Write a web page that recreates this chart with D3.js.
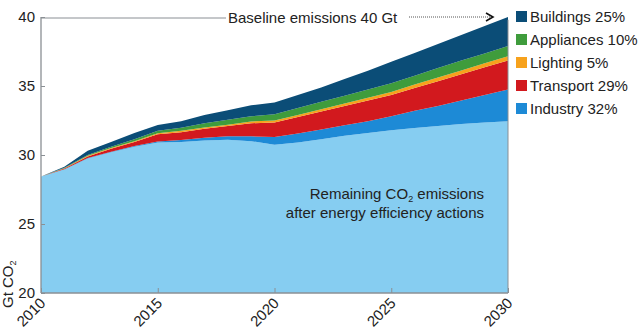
<!DOCTYPE html>
<html>
<head>
<meta charset="utf-8">
<script src="https://cdn.jsdelivr.net/npm/d3@7"></script>
<style>
  body { margin: 0; background: #fff; }
  svg text { font-family: "Liberation Sans", Arial, sans-serif; fill: #222; }
</style>
</head>
<body>
<svg id="chart" width="641" height="332"></svg>
<script>
// ---- data (Gt CO2) ----
const years = [2010, 2011, 2012, 2013, 2014, 2015, 2016, 2017, 2018, 2019, 2020,
               2021, 2022, 2023, 2024, 2025, 2026, 2027, 2028, 2029, 2030];
// remaining emissions after efficiency actions
const remaining  = [28.45, 28.95, 29.75, 30.2, 30.6, 30.9, 30.95, 31.05, 31.1, 31.0, 30.75,
                    30.9, 31.15, 31.4, 31.6, 31.8, 31.95, 32.1, 32.25, 32.35, 32.45];
// savings by sector, stacked on top of the remaining emissions
const industry   = [0, 0.02, 0.03, 0.03, 0.05, 0.08, 0.13, 0.2, 0.25, 0.35, 0.55,
                    0.65, 0.7, 0.75, 0.85, 1.0, 1.25, 1.45, 1.7, 2.0, 2.3];
const transport  = [0, 0.05, 0.12, 0.22, 0.3, 0.52, 0.57, 0.65, 0.75, 0.95, 1.05,
                    1.2, 1.3, 1.4, 1.5, 1.55, 1.65, 1.8, 1.9, 2.0, 2.1];
const lighting   = [0, 0.02, 0.04, 0.05, 0.05, 0.08, 0.1, 0.1, 0.1, 0.13, 0.15,
                    0.15, 0.17, 0.19, 0.2, 0.22, 0.25, 0.27, 0.27, 0.3, 0.3];
const appliances = [0, 0.03, 0.06, 0.1, 0.15, 0.17, 0.23, 0.3, 0.35, 0.37, 0.45,
                    0.5, 0.53, 0.56, 0.6, 0.63, 0.65, 0.68, 0.73, 0.7, 0.75];
const buildings  = [0, 0.08, 0.3, 0.35, 0.45, 0.42, 0.47, 0.6, 0.7, 0.8, 0.85,
                    0.95, 1.05, 1.2, 1.35, 1.55, 1.65, 1.75, 1.85, 2.0, 2.1];

const series_keys = ["remaining", "industry", "transport", "lighting", "appliances", "buildings"];
const series_colors = ["#86cdf1", "#1d8ad6", "#d2191e", "#f7a21c", "#3f9c3c", "#0b4d77"];
const legend_labels = ["Buildings 25%", "Appliances 10%", "Lighting 5%", "Transport 29%", "Industry 32%"];
const legend_colors = ["#0b4d77", "#3f9c3c", "#f7a21c", "#d2191e", "#1d8ad6"];
const x_ticks = [2010, 2015, 2020, 2025, 2030];
const y_ticks = [20, 25, 30, 35, 40];

// build table for d3.stack
const table = years.map((y, i) => ({
    year: y, remaining: remaining[i], industry: industry[i], transport: transport[i],
    lighting: lighting[i], appliances: appliances[i], buildings: buildings[i]
}));

// ---- layout ----
const margins = { top: 17, right: 133, bottom: 39, left: 41 };
const width = 641, height = 332;
const chart_width = width - margins.left - margins.right;
const chart_height = height - margins.top - margins.bottom;

const x_scale = d3.scaleLinear().domain([2010, 2030]).range([0, chart_width]);
const y_scale = d3.scaleLinear().domain([20, 40]).range([chart_height, 0]);

const svg = d3.select("#chart");
const g = svg.append("g").attr("transform", `translate(${margins.left}, ${margins.top})`);

// stacked areas
const stacked = d3.stack().keys(series_keys)(table);
const area = d3.area()
    .x(d => x_scale(d.data.year))
    .y0(d => y_scale(d[0] < 20 ? 20 : d[0]))
    .y1(d => y_scale(d[1]));

g.selectAll("path.layer")
    .data(stacked)
    .join("path")
    .attr("class", "layer")
    .attr("d", area)
    .attr("fill", (d, i) => series_colors[i]);

// frame: left, bottom, right
const frame_color = "#8a8f94";
g.append("line").attr("x1", 0).attr("x2", 0).attr("y1", 0).attr("y2", chart_height)
    .attr("stroke", frame_color).attr("stroke-width", 1.3);
g.append("line").attr("x1", 0).attr("x2", chart_width).attr("y1", chart_height).attr("y2", chart_height)
    .attr("stroke", frame_color).attr("stroke-width", 1.3);
g.append("line").attr("x1", chart_width).attr("x2", chart_width).attr("y1", y_scale(39.8)).attr("y2", chart_height)
    .attr("stroke", frame_color).attr("stroke-width", 1);

// y axis (ticks pointing inwards)
const y_axis = g.append("g")
    .call(d3.axisRight(y_scale).tickValues(y_ticks).tickSize(4).tickFormat(d3.format("d")));
y_axis.select(".domain").remove();
y_axis.selectAll("line").attr("stroke", frame_color);
y_axis.selectAll("text")
    .attr("x", -6)
    .attr("text-anchor", "end")
    .style("font-size", "15px");

// x axis (ticks pointing up into the plot)
const x_axis = g.append("g")
    .attr("transform", `translate(0, ${chart_height})`)
    .call(d3.axisTop(x_scale).tickValues(x_ticks).tickSize(5).tickFormat(d3.format("d")));
x_axis.select(".domain").remove();
x_axis.selectAll("line").attr("stroke", frame_color);
x_axis.selectAll("text")
    .attr("x", 0).attr("y", 0).attr("dy", 0)
    .attr("text-anchor", "end")
    .attr("transform", "translate(5, 11) rotate(-45)")
    .style("font-size", "15px");

// y axis title
svg.append("text")
    .attr("transform", "translate(13, 308) rotate(-90)")
    .style("font-size", "15px")
    .html('Gt CO<tspan dy="3" font-size="9">2</tspan>');

// baseline annotation
const top_y = margins.top + 1;
svg.append("line").attr("x1", margins.left).attr("x2", 226).attr("y1", top_y).attr("y2", top_y)
    .attr("stroke", frame_color).attr("stroke-width", 1);
svg.append("text")
    .attr("x", 228).attr("y", top_y + 5)
    .style("font-size", "15px")
    .text("Baseline emissions 40 Gt");
svg.append("line").attr("x1", 409).attr("x2", 492).attr("y1", top_y - 1).attr("y2", top_y - 1)
    .attr("stroke", "#555").attr("stroke-width", 1).attr("stroke-dasharray", "1,1");
svg.append("path")
    .attr("d", `M486,${top_y - 5} L493,${top_y - 1} L486,${top_y + 3}`)
    .attr("fill", "none").attr("stroke", "#111").attr("stroke-width", 1.6);

// text inside the remaining area (two separate lines)
svg.append("text")
    .attr("x", 484).attr("y", 199)
    .attr("text-anchor", "end")
    .style("font-size", "15px")
    .html('Remaining CO<tspan dy="3" font-size="9">2</tspan><tspan dy="-3"> emissions</tspan>');
svg.append("text")
    .attr("x", 484).attr("y", 218)
    .attr("text-anchor", "end")
    .style("font-size", "15px")
    .text("after energy efficiency actions");

// legend
const legend = svg.append("g").attr("transform", "translate(516, 11)");
legend_labels.forEach((label, i) => {
    const row = legend.append("g").attr("transform", `translate(0, ${i * 23})`);
    row.append("rect").attr("width", 11).attr("height", 11).attr("fill", legend_colors[i]);
    row.append("text").attr("x", 14).attr("y", 11).style("font-size", "15px").text(label);
});
</script>
</body>
</html>
